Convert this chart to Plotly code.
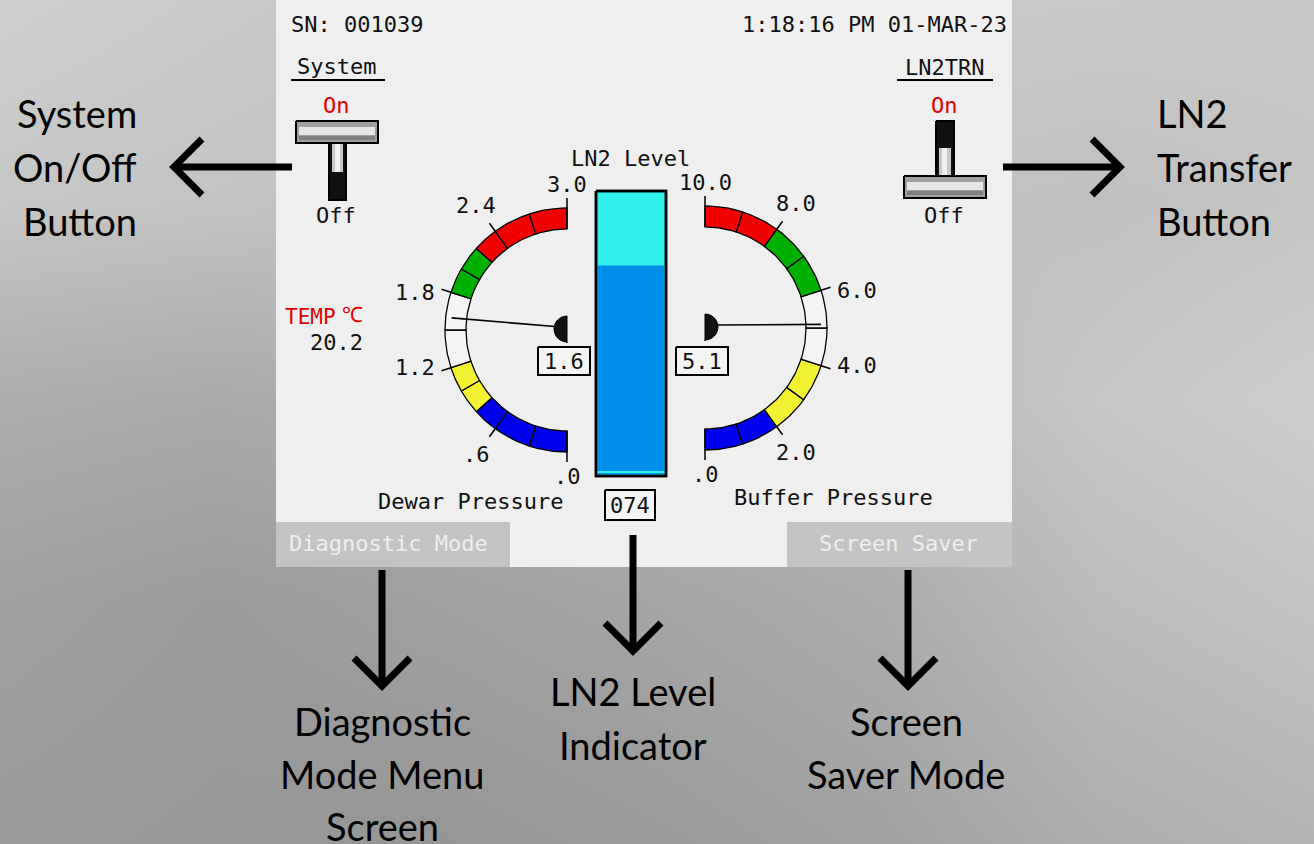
import math
import plotly.graph_objects as go

# ---------------- data ----------------
serial_text = "SN: 001039"
timestamp_text = "1:18:16 PM 01-MAR-23"
dewar_value = 1.6
buffer_value = 5.1
ln2_level_pct = 74
temp_c = 20.2

dewar_max = 3.0
dewar_ticks = [0.0, 0.6, 1.2, 1.8, 2.4, 3.0]
dewar_tick_labels = [".0", ".6", "1.2", "1.8", "2.4", "3.0"]
dewar_bounds = [0.0, 0.3, 0.6, 0.8, 1.0, 1.2, 1.5, 1.8, 2.0, 2.2, 2.4, 2.7, 3.0]
dewar_zones = ["blue", "blue", "blue", "yellow", "yellow", "white", "white",
               "green", "green", "red", "red", "red"]

buffer_max = 10.0
buffer_ticks = [0.0, 2.0, 4.0, 6.0, 8.0, 10.0]
buffer_tick_labels = [".0", "2.0", "4.0", "6.0", "8.0", "10.0"]
buffer_bounds = [0.0, 1.0, 2.0, 3.0, 4.0, 5.0, 6.0, 7.0, 8.0, 9.0, 10.0]
buffer_zones = ["blue", "blue", "yellow", "yellow", "white", "white",
                "green", "green", "red", "red"]

callout_left = ["System", "On/Off", "Button"]
callout_right = ["LN2", "Transfer", "Button"]
callout_diag = ["Diagnostic", "Mode Menu", "Screen"]
callout_level = ["LN2 Level", "Indicator"]
callout_saver = ["Screen", "Saver Mode"]

# background shading (gray levels)
bg_x = [-100, 220, 440, 660, 880, 1100, 1414]
bg_y = [-100, 200, 400, 600, 944]
bg_gray = [
    [214, 205, 200, 200, 205, 205, 200],
    [200, 195, 192, 192, 195, 192, 198],
    [175, 170, 175, 180, 185, 198, 208],
    [162, 155, 160, 165, 172, 188, 198],
    [152, 150, 146, 150, 156, 168, 178],
]

# ---------------- styling ----------------
ZONE_COLORS = {"blue": "#0000EE", "yellow": "#F2F232", "white": "#F4F4F4",
               "green": "#00B000", "red": "#F00000"}
MONO = "DejaVu Sans Mono"
SANS = "Lato"
INK = "#111111"

fig = go.Figure()
annotations = []


def poly(xs, ys, fill, line_color="black", line_width=0):
    fig.add_trace(go.Scatter(
        x=list(xs) + [xs[0]], y=list(ys) + [ys[0]], mode="lines", fill="toself",
        fillcolor=fill, line=dict(color=line_color, width=line_width),
        hoverinfo="skip", showlegend=False))


def rect(x0, y0, x1, y1, fill, line_color="black", line_width=0):
    poly([x0, x1, x1, x0], [y0, y0, y1, y1], fill, line_color, line_width)


def line(xs, ys, color="black", width=1.5, dash=None):
    fig.add_trace(go.Scatter(x=xs, y=ys, mode="lines",
                             line=dict(color=color, width=width, dash=dash),
                             hoverinfo="skip", showlegend=False))


def text(x, y, s, size=22, color=INK, family=MONO, xanchor="center", yanchor="middle"):
    annotations.append(dict(x=x, y=y, xref="x", yref="y", text=s, showarrow=False,
                            xanchor=xanchor, yanchor=yanchor,
                            font=dict(family=family, size=size, color=color)))


# background
fig.add_trace(go.Heatmap(x=bg_x, y=bg_y, z=bg_gray, zmin=0, zmax=255, zsmooth="best",
                         colorscale=[[0, "black"], [1, "white"]], showscale=False,
                         hoverinfo="skip"))

# screen panel
rect(276, -2, 1012, 567, "#EFEFEF")

# header text
text(289, 24, serial_text, xanchor="left")
text(1009, 24, timestamp_text, xanchor="right")

# switches
text(336, 66, "System")
line([291, 385], [80, 80], width=2)
text(336, 105, "On", color="#E00000")
rect(296, 121, 378, 143, "#A0A0A0", "black", 2)
rect(299, 127, 375, 135, "#E6E6E6")
rect(299, 136, 375, 140, "#808080")
rect(329, 143, 346, 200, "#111111", "black", 2)
rect(332, 144, 343, 172, "#C8C8C8")
rect(335, 144, 340, 172, "#F0F0F0")
text(336, 215, "Off")

text(944, 67, "LN2TRN")
line([897, 993], [80, 80], width=2)
text(944, 105, "On", color="#E00000")
rect(936, 121, 954, 176, "#111111", "black", 2)
rect(939, 148, 951, 176, "#C8C8C8")
rect(942, 148, 947, 176, "#F0F0F0")
rect(904, 176, 986, 198, "#A0A0A0", "black", 2)
rect(907, 182, 983, 190, "#E6E6E6")
rect(907, 191, 983, 195, "#808080")
text(944, 215, "Off")

# temperature
text(283, 317, "TEMP", color="#E00000", size=21, xanchor="left")
text(352, 315, "\u2103", color="#E00000", size=21)
text(365, 342, f"{temp_c:.1f}", xanchor="right")


# gauges
def draw_gauge(cx, cy, side, vmax, bounds, zones, ticks, labels, value):
    r_out, r_in = 122, 101

    def pt(v, r):
        phi = math.pi * v / vmax
        return cx + side * r * math.sin(phi), cy + r * math.cos(phi)

    for v0, v1, z in zip(bounds[:-1], bounds[1:], zones):
        n = 14
        vs = [v0 + (v1 - v0) * k / n for k in range(n + 1)]
        outer = [pt(v, r_out) for v in vs]
        inner = [pt(v, r_in) for v in reversed(vs)]
        pts = outer + inner
        poly([p[0] for p in pts], [p[1] for p in pts], ZONE_COLORS[z], "black", 1.3)

    for tv, tl in zip(ticks, labels):
        phi = math.pi * tv / vmax
        s = math.sin(phi)
        end = tv in (0, vmax)
        a = pt(tv, r_in if end else r_out)
        b = pt(tv, r_out + 10)
        line([a[0], b[0]], [a[1], b[1]], width=1.5)
        if abs(s) > 0.9:
            p = pt(tv, r_out)
            text(p[0] + side * 14, p[1], tl,
                 xanchor="right" if side < 0 else "left")
        else:
            p = pt(tv, r_out + (24 if end else 32))
            text(p[0], p[1], tl)

    # needle
    tip = pt(value, r_out - 6)
    px = cx + side * 6
    line([px, tip[0]], [cy - 3, tip[1]], width=1.6)
    cap = [(cx, cy - 14)]
    for k in range(13):
        ang = math.pi * k / 12
        cap.append((cx + side * 13 * math.sin(ang), cy - 1 - 13 * math.cos(ang)))
    cap.append((cx, cy + 13))
    poly([c[0] for c in cap], [c[1] for c in cap], "#111111", "black", 1)

    # value box
    rect(cx - 29, 347, cx + 23, 375, "#F4F4F4", "black", 2)
    text(cx - 3, 361, f"{value:.1f}")


draw_gauge(567, 330, -1, dewar_max, dewar_bounds, dewar_zones,
           dewar_ticks, dewar_tick_labels, dewar_value)
draw_gauge(705, 328, 1, buffer_max, buffer_bounds, buffer_zones,
           buffer_ticks, buffer_tick_labels, buffer_value)

text(470, 501, "Dewar Pressure")
text(833, 497, "Buffer Pressure")

# LN2 level bar
bx0, bx1, by0, by1 = 596, 666, 191, 476
rect(bx0, by0, bx1, by1, "#30F0EC", "black", 2.5)
level_top = by1 - 1 - (by1 - by0 - 2) * ln2_level_pct / 100.0
rect(bx0 + 1.5, level_top, bx1 - 1.5, by1 - 1.5, "#0090EC")
rect(bx0 + 1.5, by1 - 5, bx1 - 1.5, by1 - 3, "#30F0EC")
line([bx0, bx1, bx1, bx0, bx0], [by0, by0, by1, by1, by0], width=2.5)
text(630, 158, "LN2 Level")
rect(605, 490, 655, 520, "#F4F4F4", "black", 2)
text(630, 505, f"{ln2_level_pct:03d}")

# soft buttons
rect(276, 522, 510, 567, "#C3C3C3")
text(287, 543, "Diagnostic Mode", color="#EEEEEE", xanchor="left")
rect(787, 522, 1012, 567, "#C3C3C3")
text(898, 543, "Screen Saver", color="#EEEEEE")


# arrows
def arrow(x0, y0, x1, y1):
    line([x0, x1], [y0, y1], width=7)
    dx, dy = x1 - x0, y1 - y0
    L = math.hypot(dx, dy)
    ux, uy = dx / L, dy / L
    back, half = 28, 28
    a1 = (x1 - ux * back - uy * half, y1 - uy * back + ux * half)
    a2 = (x1 - ux * back + uy * half, y1 - uy * back - ux * half)
    line([a1[0], x1, a2[0]], [a1[1], y1, a2[1]], width=7)


arrow(292, 167, 174, 167)
arrow(1003, 167, 1120, 167)
arrow(382, 570, 382, 686)
arrow(633, 535, 633, 651)
arrow(908, 570, 908, 686)

# callout texts
CS = 38
for s, y in zip(callout_left, [113, 167, 221]):
    text(139, y, s, size=CS, family=SANS, color="black", xanchor="right")
for s, y in zip(callout_right, [113, 167, 221]):
    text(1155, y, s, size=CS, family=SANS, color="black", xanchor="left")
for s, y in zip(callout_diag, [721, 774, 826]):
    text(382, y, s, size=CS, family=SANS, color="black")
for s, y in zip(callout_level, [691, 745]):
    text(633, y, s, size=CS, family=SANS, color="black")
for s, y in zip(callout_saver, [721, 774]):
    text(906, y, s, size=CS, family=SANS, color="black")

fig.update_layout(
    width=1314, height=844, margin=dict(l=0, r=0, t=0, b=0),
    paper_bgcolor="#B8B8B8", plot_bgcolor="#B8B8B8",
    xaxis=dict(range=[0, 1314], visible=False, fixedrange=True),
    yaxis=dict(range=[844, 0], visible=False, fixedrange=True),
    annotations=annotations, showlegend=False,
)

fig.write_html("out.html", config={"displayModeBar": False},
               post_script="document.body.style.margin='0';document.body.style.overflow='hidden';")
